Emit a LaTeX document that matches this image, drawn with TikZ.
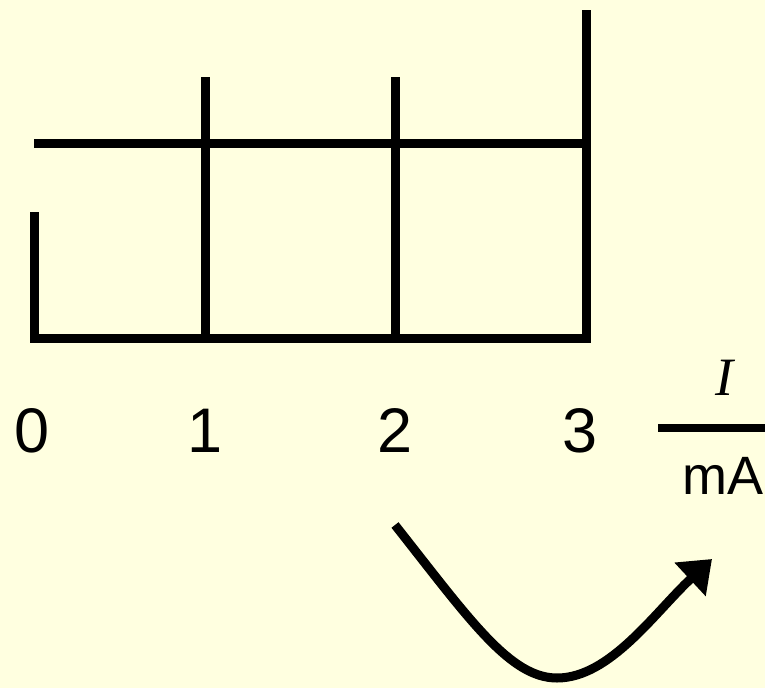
\documentclass[tikz,border=0pt]{standalone}
\usepackage{fontspec}
\setmainfont{Liberation Sans}
\newfontfamily\serifit{Liberation Serif}
\usetikzlibrary{arrows.meta}
\definecolor{bg}{HTML}{FFFFE0}
\tikzset{
  axisline/.style={line width=9pt, line cap=butt, line join=miter},
  digit/.style={anchor=base, inner sep=0pt, font=\fontsize{63}{70}\selectfont},
  unitlbl/.style={anchor=base west, inner sep=0pt, font=\fontsize{54}{60}\selectfont},
}
\begin{document}
\begin{tikzpicture}[x=1pt,y=-1pt]
\fill[bg] (0,0) rectangle (765,688);
\useasboundingbox (0,0) rectangle (765,688);
% frame coordinates
\coordinate (lt) at (34.5,212);
\coordinate (lb) at (34.5,338);
\coordinate (rb) at (586.5,338);
\coordinate (rt) at (586.5,10);
\draw[axisline] (lt) -- (lb) -- (rb) -- (rt);
\coordinate (hl) at (34,143.5);
\coordinate (hr) at (591,143.5);
\draw[axisline] (hl) -- (hr);
\coordinate (v1t) at (205.5,77);
\coordinate (v1b) at (205.5,338);
\coordinate (v2t) at (395,77);
\coordinate (v2b) at (395,338);
\draw[axisline] (v1t) -- (v1b);
\draw[axisline] (v2t) -- (v2b);
% tick labels
\node[digit] (n0) at (32,452) {0};
\node[digit] (n1) at (205,452) {1};
\node[digit] (n2) at (395,452) {2};
\node[digit] (n3) at (580,452) {3};
% unit fraction
\coordinate (fl) at (658,428);
\coordinate (fr) at (775,428);
\draw[line width=8.5pt] (fl) -- (fr);
\node[anchor=base, inner sep=0pt, font=\serifit\itshape\fontsize{54}{60}\selectfont] (I) at (724,395) {I};
\node[unitlbl] (mA) at (682,494) {mA};
% curved arrow
\coordinate (as) at (395,525);
\coordinate (am) at (557,678);
\coordinate (ae) at (712,559);
\draw[line width=9pt, -{Triangle[length=30pt,width=44pt]}]
  (as) .. controls (470,620) and (510,678) .. (am)
       .. controls (610,678) and (655,612) .. (ae);
\end{tikzpicture}
\end{document}
